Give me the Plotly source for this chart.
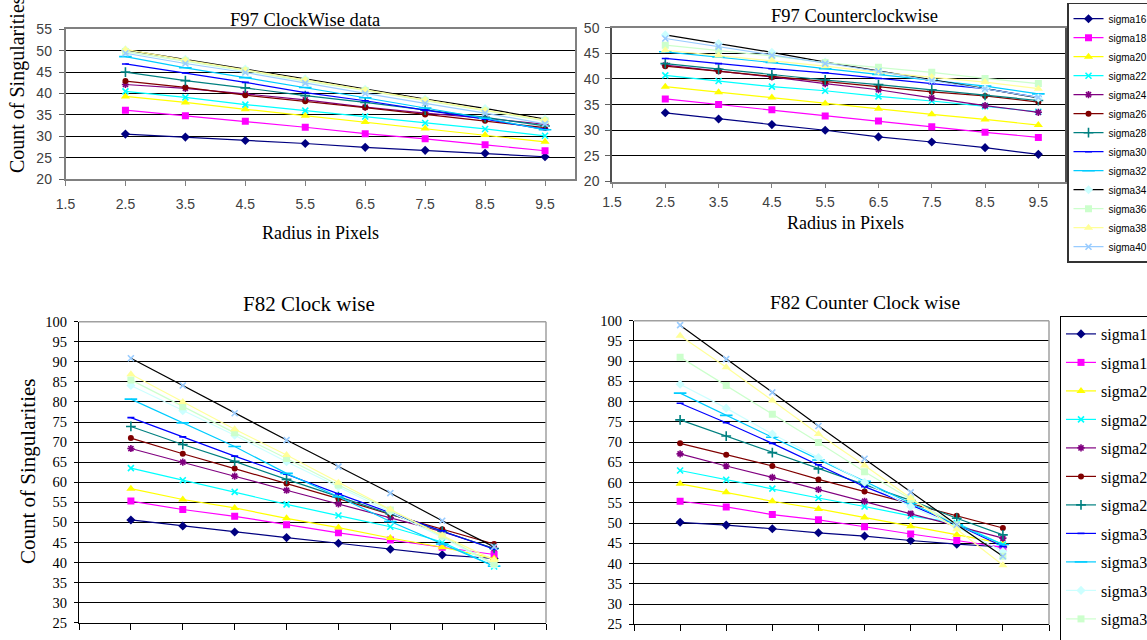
import plotly.graph_objects as go

W, H = 1147, 640

radius = [2.5, 3.5, 4.5, 5.5, 6.5, 7.5, 8.5, 9.5]
sigma_names = ["sigma16", "sigma18", "sigma20", "sigma22", "sigma24", "sigma26", "sigma28",
               "sigma30", "sigma32", "sigma34", "sigma36", "sigma38", "sigma40"]

f97_cw = [
    [30.5, 29.8, 29.0, 28.3, 27.4, 26.7, 26.0, 25.2],
    [36.1, 34.8, 33.5, 32.1, 30.6, 29.4, 28.0, 26.6],
    [39.3, 37.9, 36.3, 34.8, 33.3, 31.8, 30.3, 28.7],
    [40.5, 39.1, 37.4, 36.0, 34.6, 33.1, 31.7, 30.1],
    [42.1, 41.2, 39.9, 38.5, 36.8, 35.4, 34.2, 32.8],
    [42.9, 41.4, 39.6, 38.2, 36.7, 35.1, 33.6, 32.0],
    [45.0, 43.0, 41.3, 39.5, 37.9, 36.1, 34.4, 32.4],
    [46.9, 44.8, 42.6, 40.2, 38.3, 36.1, 34.0, 31.6],
    [48.6, 46.0, 43.7, 41.4, 39.0, 36.6, 34.2, 31.5],
    [50.2, 48.0, 45.7, 43.4, 41.0, 38.7, 36.5, 34.0],
    [49.8, 47.6, 45.3, 42.9, 40.7, 38.3, 35.9, 33.6],
    [50.3, 47.8, 45.5, 43.2, 40.8, 38.5, 36.1, 33.8],
    [49.4, 47.0, 44.9, 42.4, 40.0, 37.7, 35.4, 32.9],
]

f97_ccw = [
    [33.4, 32.2, 31.1, 30.0, 28.7, 27.7, 26.6, 25.3],
    [36.1, 35.0, 34.0, 32.8, 31.8, 30.7, 29.6, 28.6],
    [38.5, 37.4, 36.4, 35.2, 34.2, 33.1, 32.1, 31.0],
    [40.7, 39.6, 38.5, 37.7, 36.6, 35.7, 34.7, 33.6],
    [42.7, 41.6, 40.4, 39.1, 37.9, 36.3, 34.8, 33.5],
    [42.5, 41.5, 40.4, 39.5, 38.5, 37.5, 36.7, 35.5],
    [43.0, 41.9, 40.8, 39.8, 38.9, 37.9, 36.8, 35.8],
    [44.0, 43.0, 42.0, 41.2, 40.1, 39.1, 38.1, 36.4],
    [45.3, 44.3, 43.2, 42.0, 40.9, 39.8, 38.6, 37.1],
    [48.6, 46.9, 45.2, 43.3, 41.6, 39.9, 38.1, 36.3],
    [46.6, 45.6, 44.5, 43.2, 42.3, 41.3, 40.1, 39.1],
    [45.6, 44.6, 43.6, 42.5, 41.3, 40.4, 39.4, 38.1],
    [47.9, 46.3, 44.6, 43.0, 41.5, 39.7, 38.1, 36.4],
]

f82_cw = [
    [50.6, 49.1, 47.6, 46.2, 44.8, 43.3, 41.9, 41.0],
    [55.3, 53.2, 51.5, 49.4, 47.4, 45.6, 43.8, 42.0],
    [58.4, 55.7, 53.6, 51.0, 48.7, 46.1, 43.8, 41.0],
    [63.5, 60.5, 57.6, 54.5, 51.7, 48.9, 45.1, 39.0],
    [68.4, 65.0, 61.5, 58.0, 54.6, 51.2, 47.7, 43.5],
    [71.0, 67.1, 63.4, 59.7, 55.9, 52.0, 48.3, 44.6],
    [73.9, 69.4, 65.2, 60.7, 56.4, 52.1, 47.8, 43.5],
    [76.1, 71.3, 66.5, 62.0, 57.1, 52.4, 47.9, 43.3],
    [80.7, 74.8, 68.9, 62.2, 56.4, 50.2, 44.6, 39.1],
    [84.1, 77.8, 71.7, 65.1, 58.9, 52.7, 46.3, 39.3],
    [85.5, 78.8, 72.3, 65.9, 59.3, 53.1, 46.6, 39.6],
    [86.9, 80.0, 73.2, 66.8, 59.9, 53.2, 46.7, 40.6],
    [90.9, 84.1, 77.2, 70.5, 63.9, 57.3, 50.4, 43.9],
]

f82_ccw = [
    [50.2, 49.5, 48.6, 47.6, 46.8, 45.7, 44.8, 44.1],
    [55.4, 54.0, 52.1, 50.8, 49.1, 47.3, 45.7, 44.0],
    [59.7, 57.6, 55.4, 53.5, 51.4, 49.2, 47.1, 45.0],
    [63.0, 60.7, 58.5, 56.2, 54.1, 51.8, 50.0, 44.7],
    [67.1, 64.1, 61.3, 58.3, 55.4, 52.4, 49.3, 46.3],
    [69.7, 66.9, 64.1, 60.8, 57.8, 54.8, 51.8, 48.8],
    [75.5, 71.5, 67.4, 63.4, 59.5, 55.6, 51.2, 47.1],
    [79.6, 74.8, 69.7, 64.4, 59.0, 54.5, 49.6, 44.2],
    [82.1, 76.6, 71.2, 65.6, 60.3, 54.9, 49.6, 44.7],
    [84.3, 78.4, 72.0, 66.2, 60.1, 54.1, 49.0, 43.0],
    [91.0, 84.0, 76.9, 69.9, 62.7, 55.9, 49.6, 41.8],
    [96.3, 88.5, 80.3, 72.0, 64.2, 56.2, 48.5, 39.6],
    [98.9, 90.5, 82.3, 74.0, 65.9, 57.6, 49.6, 41.8],
]

chart_titles = ["F97 ClockWise data", "F97 Counterclockwise", "F82 Clock wise", "F82 Counter Clock wise"]
x_title = "Radius in Pixels"
y_title = "Count of Singularities"

series_colors = ["#000080", "#FF00FF", "#FFFF00", "#00FFFF", "#800080", "#800000", "#008080",
                 "#0000FF", "#00CCFF", "#CCFFFF", "#CCFFCC", "#FFFF99", "#99CCFF"]
symbols = ["diamond", "square", "triangle-up", "x-thin", "asterisk", "circle", "cross-thin",
           "line-ew", "line-ew", "diamond", "square", "triangle-up", "x-thin"]
sizes = [7, 7, 8, 6, 6, 6, 7, 5, 9, 7, 7, 8, 6]

SERIF = "Liberation Serif, Times New Roman, serif"
SANS = "Liberation Sans, Arial, sans-serif"


def fx(p):
    return p / W


def fy(p):
    return 1 - p / H


fig = go.Figure()

panels = [
    (f97_cw, "x", "y", "top", None),
    (f97_ccw, "x2", "y2", "top", "legend"),
    (f82_cw, "x3", "y3", "bottom", None),
    (f82_ccw, "x4", "y4", "bottom", "legend2"),
]

for values, xa, ya, kind, leg in panels:
    for i, name in enumerate(sigma_names):
        lc = series_colors[i]
        if kind == "top" and i == 9:
            lc = "#000000"
        if kind == "bottom" and i == 12:
            lc = "#000000"
        open_sym = symbols[i] in ("x-thin", "asterisk", "cross-thin", "line-ew")
        marker = dict(symbol=symbols[i], size=sizes[i], color=series_colors[i],
                      line=dict(color=series_colors[i], width=1.6 if open_sym else 0))
        tr = dict(x=radius, y=values[i], mode="lines+markers", name=name,
                  line=dict(color=lc, width=1.2), marker=marker,
                  xaxis=xa, yaxis=ya, showlegend=leg is not None)
        if leg is not None:
            tr["legend"] = leg
            if leg == "legend2":
                tr["legendgroup"] = "b" + name
        fig.add_trace(go.Scatter(**tr))

# plot-area pixel boxes: (left, right, top, bottom)
boxes = {
    "1": (65.5, 575, 29.3, 179),
    "2": (612, 1065, 27.7, 181.5),
    "3": (79, 546, 321.7, 622.7),
    "4": (634, 1049, 320.7, 624.3),
}

layout = dict(
    width=W, height=H,
    margin=dict(l=0, r=0, t=0, b=0, autoexpand=False),
    paper_bgcolor="white", plot_bgcolor="white",
    showlegend=True,
)

top_x = dict(range=[1.5, 10], tick0=1.5, dtick=1, tickformat=".1f", showgrid=False, zeroline=False,
             ticks="outside", ticklen=5, tickcolor="#808080", showline=True, mirror=True,
             linecolor="#808080", linewidth=1.5,
             tickfont=dict(family=SANS, size=14, color="#404040"))
bot_x = dict(range=[1.5, 10.5], tick0=1.5, dtick=1, showticklabels=False, showgrid=False, zeroline=False,
             ticks="outside", ticklen=6, tickcolor="#000000", showline=True, mirror=False,
             linecolor="#000000", linewidth=1)

for k in ["1", "2", "3", "4"]:
    l, r, t, b = boxes[k]
    xk = "xaxis" if k == "1" else "xaxis" + k
    yk = "yaxis" if k == "1" else "yaxis" + k
    anchor_y = "y" if k == "1" else "y" + k
    anchor_x = "x" if k == "1" else "x" + k
    if k in ("1", "2"):
        xa = dict(top_x)
        xa["ticklabelstandoff"] = 6 if k == "1" else 2
        yrange = [20, 55] if k == "1" else [20, 50]
        ya = dict(range=yrange, dtick=5, showgrid=True, gridcolor="#000000", gridwidth=1,
                  zeroline=False, ticks="outside", ticklen=5, tickcolor="#606060",
                  showline=True, mirror=True, linecolor="#808080" if k == "1" else "#505050",
                  linewidth=1.5, ticklabelstandoff=4 if k == "1" else 3,
                  tickfont=dict(family=SANS, size=14, color="#404040"))
    else:
        xa = dict(bot_x)
        ya = dict(range=[25, 100], dtick=5, showgrid=True, gridcolor="#000000", gridwidth=1,
                  zeroline=False, ticks="outside", ticklen=4, tickcolor="#000000",
                  showline=True, mirror=False, linecolor="#000000", linewidth=1,
                  ticklabelstandoff=4,
                  tickfont=dict(family=SERIF, size=14.5, color="#000000"))
    xa.update(domain=[fx(l), fx(r)], anchor=anchor_y)
    ya.update(domain=[fy(b), fy(t)], anchor=anchor_x)
    layout[xk] = xa
    layout[yk] = ya

shapes = []
for k in ["3", "4"]:
    xr = "x" + k + " domain"
    yr = "y" + k + " domain"
    shapes.append(dict(type="line", xref=xr, yref=yr, x0=0, x1=1, y0=1, y1=1,
                       line=dict(color="#A0A0A0", width=1.5), layer="above"))
    shapes.append(dict(type="line", xref=xr, yref=yr, x0=1, x1=1, y0=0, y1=1,
                       line=dict(color="#A0A0A0", width=1.5), layer="above"))
layout["shapes"] = shapes


def ann(text, x, y, size, angle=0):
    return dict(text=text, x=fx(x), y=fy(y), xref="paper", yref="paper", showarrow=False,
                xanchor="center", yanchor="middle", textangle=angle,
                font=dict(family=SERIF, size=size, color="#000000"))


layout["annotations"] = [
    ann(chart_titles[0], 305, 19.5, 18.5),
    ann(x_title, 320, 233, 18),
    ann(y_title, 17.5, 84.6, 20, -90),
    ann(chart_titles[1], 854, 16, 18.5),
    ann(x_title, 845, 223, 18),
    ann(chart_titles[2], 309, 304, 21),
    ann(y_title, 28, 471, 21, -90),
    ann(chart_titles[3], 865, 302, 19.5),
]

layout["legend"] = dict(x=fx(1067), y=fy(2.7), xanchor="left", yanchor="top",
                        bgcolor="white", bordercolor="#333333", borderwidth=1.5,
                        font=dict(family=SANS, size=10, color="#000000"),
                        traceorder="normal", tracegroupgap=0)
layout["legend2"] = dict(x=fx(1060), y=fy(316), xanchor="left", yanchor="top",
                         bgcolor="white", bordercolor="#000000", borderwidth=1,
                         font=dict(family=SERIF, size=16, color="#000000"),
                         traceorder="grouped", tracegroupgap=4.7)

fig.update_layout(**layout)
fig.write_html("out.html", config={"displayModeBar": False},
               post_script="document.body.style.margin='0px';document.body.style.overflow='hidden';")
